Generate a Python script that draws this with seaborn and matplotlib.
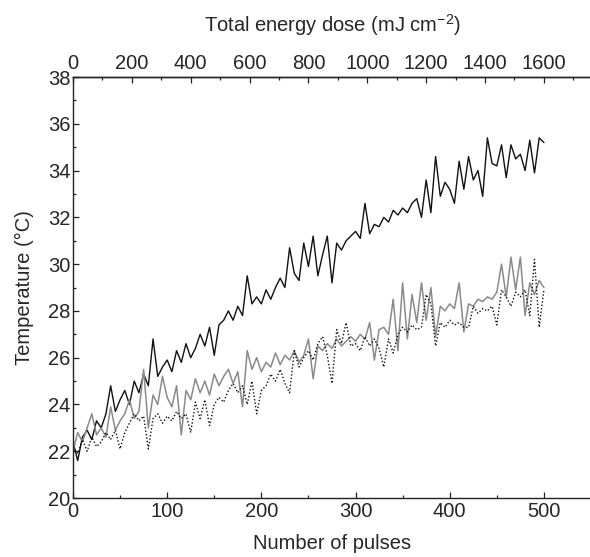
import numpy as np
import pandas as pd
import matplotlib
matplotlib.use("Agg")
import matplotlib.pyplot as plt
from matplotlib.ticker import MultipleLocator, FixedLocator
import seaborn as sns

# Data (every 5 pulses)
pulses = list(range(0, 505, 5))

temp_black = [
    22.4, 21.6, 22.6, 22.9, 22.5, 23.3, 23.0, 23.6, 24.8, 23.7,
    24.2, 24.6, 24.0, 25.0, 24.5, 25.3, 24.8, 26.8, 25.2, 25.6,
    25.9, 25.4, 26.3, 25.8, 26.6, 26.0, 26.4, 27.0, 26.5, 27.3,
    26.1, 27.4, 27.6, 28.0, 27.6, 28.2, 27.8, 29.5, 28.3, 28.6,
    28.3, 28.9, 28.5, 29.0, 29.4, 29.0, 30.7, 29.6, 29.3, 30.9,
    29.9, 31.2, 29.5, 30.4, 31.2, 29.2, 30.9, 30.6, 31.0, 31.2,
    31.4, 31.1, 32.6, 31.3, 31.7, 31.6, 32.0, 31.8, 32.3, 32.1,
    32.4, 32.2, 32.6, 32.8, 32.0, 33.6, 32.2, 34.6, 32.9, 33.5,
    33.2, 32.6, 34.4, 33.2, 34.6, 33.6, 34.0, 32.9, 35.4, 34.3,
    34.2, 35.1, 33.7, 35.1, 34.5, 34.7, 34.0, 35.3, 33.9, 35.4,
    35.2,
]

temp_gray = [
    22.0, 22.8, 22.4, 23.0, 23.6, 22.7, 23.0, 22.6, 23.9, 22.9,
    23.3, 23.6, 24.2, 23.4, 23.7, 25.5, 23.0, 24.4, 24.0, 25.2,
    24.3, 23.9, 24.8, 22.7, 24.6, 24.2, 25.1, 24.5, 25.0, 24.4,
    25.3, 24.8, 25.2, 25.5, 24.9, 25.4, 23.9, 26.3, 25.5, 26.0,
    25.4, 25.8, 25.6, 26.2, 25.7, 26.1, 25.9, 26.3, 25.8, 26.1,
    26.8, 25.1, 26.5, 26.3, 26.6, 26.4, 26.8, 26.5, 26.7, 26.9,
    26.7, 27.0, 26.8, 27.5, 25.9, 27.2, 27.3, 27.0, 28.5, 26.3,
    29.2, 26.8, 28.7, 27.5, 29.2, 27.6, 29.0, 26.9, 28.2, 28.0,
    28.3, 28.1, 29.2, 27.1, 28.3, 28.2, 28.5, 28.4, 28.6, 28.5,
    28.8, 30.0, 28.6, 30.3, 28.9, 30.3, 27.8, 29.2, 28.7, 29.3,
    29.0,
]

temp_dotted = [
    22.2, 21.9, 22.5, 22.0, 22.6, 22.2, 22.4, 22.8, 22.5, 22.9,
    22.1, 22.8, 23.2, 23.6, 23.3, 23.5, 22.1, 23.4, 23.6, 23.2,
    23.5, 23.3, 23.7, 23.4, 23.6, 22.8, 24.1, 23.4, 24.2, 23.1,
    24.0, 24.3, 24.1, 24.6, 24.9, 24.5, 24.8, 24.0, 25.0, 23.6,
    24.6, 24.8, 25.3, 25.0, 25.5, 24.9, 24.5, 26.3, 25.6, 26.0,
    26.3, 25.9, 26.6, 26.9, 26.1, 24.9, 27.2, 26.6, 27.5, 26.5,
    26.6, 26.3, 26.9, 26.5, 26.8, 26.4, 25.6, 26.8, 26.2, 27.0,
    27.3, 27.1, 27.4, 27.2, 27.3, 28.7, 28.3, 26.5, 27.5, 27.3,
    27.6, 27.4, 27.5, 27.3, 27.3, 28.2, 27.9, 28.1, 28.0, 28.2,
    27.4, 28.9, 28.6, 28.2, 28.8, 28.6, 28.9, 27.8, 30.2, 27.3,
    28.9,
]

dose_per_pulse = 3.2  # mJ cm^-2 per pulse (1600 at 500 pulses)
dose_ticks = [0, 200, 400, 600, 800, 1000, 1200, 1400, 1600]
dose_minor = [100, 300, 500, 700, 900, 1100, 1300, 1500, 1700]

df = pd.DataFrame({"pulses": pulses, "black": temp_black,
                   "gray": temp_gray, "dotted": temp_dotted})

sns.set_style("ticks")
plt.rcParams["font.family"] = ["Liberation Sans", "DejaVu Sans"]
plt.rcParams["mathtext.default"] = "regular"
plt.rcParams["font.size"] = 14.5

fig = plt.figure(figsize=(5.9, 5.57), dpi=100)
ax = fig.add_axes([0.1237, 0.1059, 0.8780, 0.7558])

sns.lineplot(x="pulses", y="black", data=df, ax=ax, color="#111111", linewidth=1.0)
sns.lineplot(x="pulses", y="gray", data=df, ax=ax, color="#8a8a8a", linewidth=1.1)
sns.lineplot(x="pulses", y="dotted", data=df, ax=ax, color="#111111",
             linewidth=1.0, linestyle=(0, (1, 1.5)))

ax.set_xlim(0, 550)
ax.set_ylim(20, 38)
ax.xaxis.set_major_locator(FixedLocator([0, 100, 200, 300, 400, 500]))
ax.xaxis.set_minor_locator(FixedLocator([50, 150, 250, 350, 450]))
ax.yaxis.set_major_locator(MultipleLocator(2))
ax.yaxis.set_minor_locator(MultipleLocator(1))
ax.tick_params(which="both", direction="in", color="#222222", labelsize=14.5,
               top=False, right=False)
ax.tick_params(which="major", length=4, width=0.9, pad=3)
ax.tick_params(axis="y", which="major", pad=2)
ax.tick_params(which="minor", length=2.5, width=0.9)
ax.spines["right"].set_visible(False)
for s in ["left", "bottom", "top"]:
    ax.spines[s].set_linewidth(1.0)
    ax.spines[s].set_color("#222222")

ax.set_xlabel("Number of pulses", fontsize=14.5, labelpad=9)
ax.set_ylabel("Temperature (°C)", fontsize=14.5, labelpad=10)

top = ax.secondary_xaxis("top", functions=(lambda p: p * dose_per_pulse,
                                           lambda d: d / dose_per_pulse))
top.xaxis.set_major_locator(FixedLocator(dose_ticks))
top.xaxis.set_minor_locator(FixedLocator(dose_minor))
top.tick_params(which="both", direction="in", color="#222222", labelsize=14.5)
top.tick_params(which="major", length=4, width=0.9, pad=3)
top.tick_params(which="minor", length=2.5, width=0.9)
top.spines["top"].set_linewidth(1.0)
top.set_xlabel("Total energy dose (mJ cm$^{-2}$)", fontsize=14.5, labelpad=16)

fig.savefig("out.png", dpi=100)
